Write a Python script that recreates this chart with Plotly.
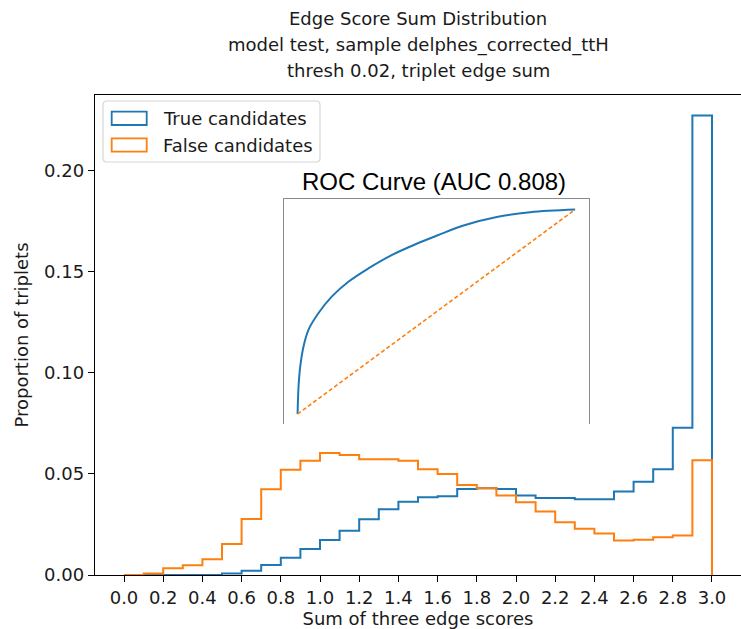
import numpy as np
import plotly.graph_objects as go

# Histogram binning: 30 bins of width 0.1 over [0, 3]
bin_lo, bin_hi, n_bins = 0.0, 3.0, 30

# Proportion of triplets per bin
true_frac = [0.0, 0.0, 0.0, 0.0, 0.0,
             0.0008, 0.0021, 0.0050, 0.0086, 0.0129,
             0.0173, 0.0219, 0.0276, 0.0325, 0.0363,
             0.0385, 0.0390, 0.0426, 0.0429, 0.0426,
             0.0393, 0.0381, 0.0381, 0.0375, 0.0375,
             0.0413, 0.0462, 0.0523, 0.0729, 0.2274]
false_frac = [0.0, 0.0008, 0.0033, 0.0048, 0.0078,
              0.0153, 0.0277, 0.0424, 0.0521, 0.0566,
              0.0604, 0.0594, 0.0573, 0.0573, 0.0566,
              0.0523, 0.0500, 0.0446, 0.0429, 0.0393,
              0.0360, 0.0314, 0.0261, 0.0229, 0.0205,
              0.0171, 0.0175, 0.0187, 0.0195, 0.0568]

# ROC curve points (false positive rate, true positive rate)
roc_fpr = [0.0, 0.0036, 0.0097, 0.0216, 0.0396, 0.0755, 0.123, 0.183,
           0.255, 0.339, 0.423, 0.505, 0.598, 0.718, 0.838, 1.0]
roc_tpr = [0.0, 0.137, 0.234, 0.332, 0.413, 0.494, 0.574, 0.647,
           0.712, 0.777, 0.829, 0.874, 0.922, 0.963, 0.987, 1.0]
roc_auc = 0.808

title_lines = ["Edge Score Sum Distribution",
               "model test, sample delphes_corrected_ttH",
               "thresh 0.02, triplet edge sum"]

x_ticks = [round(0.2 * i, 1) for i in range(16)]
y_ticks = [0.0, 0.05, 0.10, 0.15, 0.20]

BLUE = "#1f77b4"
ORANGE = "#ff7f0e"
FONT = "DejaVu Sans"
TXT = "#1a1a1a"


def step_outline(values):
    """Outline of a step histogram: up from the baseline, across each bin, down at the end."""
    edges = np.linspace(bin_lo, bin_hi, n_bins + 1)
    xs = [edges[0]] + list(edges[:-1]) + [edges[-1], edges[-1]]
    ys = [0.0] + list(values) + [values[-1], 0.0]
    return xs, ys


fig = go.Figure()

for vals, col, name in [(true_frac, BLUE, "True candidates"),
                        (false_frac, ORANGE, "False candidates")]:
    hx, hy = step_outline(vals)
    fig.add_trace(go.Scatter(x=hx, y=hy, mode="lines", name=name,
                             line=dict(color=col, width=2, shape="hv"),
                             showlegend=False, xaxis="x", yaxis="y"))

# Inset ROC curve
fig.add_trace(go.Scatter(x=roc_fpr, y=roc_tpr, mode="lines",
                         line=dict(color=BLUE, width=2, shape="spline", smoothing=1.0),
                         showlegend=False, xaxis="x2", yaxis="y2"))
fig.add_trace(go.Scatter(x=[0, 1], y=[0, 1], mode="lines",
                         line=dict(color=ORANGE, width=1.6, dash="4px,2.5px"),
                         showlegend=False, xaxis="x2", yaxis="y2"))

# Main axes occupies the plot area; the inset sits inside it
L, R, T, B = 95, 0, 95, 54
W, H = 741, 629
pw, ph = W - L - R, H - T - B


def px_x(p):
    return (p - L) / pw


def px_y(p):
    return (H - B - p) / ph


fig.update_layout(
    width=W, height=H,
    margin=dict(l=L, r=R, t=T, b=B, pad=0),
    paper_bgcolor="white", plot_bgcolor="white",
    font=dict(family=FONT, size=18, color=TXT),
    xaxis=dict(domain=[0, 1], range=[-0.148, 3.148], tickvals=x_ticks,
               ticktext=[f"{v:.1f}" for v in x_ticks],
               ticks="outside", ticklen=6, tickwidth=1.3, tickcolor="black",
               showline=True, linecolor="black", linewidth=1.4, mirror=True,
               showgrid=False, zeroline=False,
               title=dict(text="Sum of three edge scores", standoff=0,
                          font=dict(family=FONT, size=18, color=TXT))),
    yaxis=dict(domain=[0, 1], range=[0, 0.2376], tickvals=y_ticks,
               ticktext=[f"{v:.2f}" for v in y_ticks],
               ticks="outside", ticklen=6, tickwidth=1.3, tickcolor="black",
               showline=True, linecolor="black", linewidth=1.4,
               showgrid=False, zeroline=False,
               title=dict(text="Proportion of triplets", standoff=10,
                          font=dict(family=FONT, size=18, color=TXT))),
    xaxis2=dict(domain=[px_x(283.7), px_x(589)], range=[-0.05, 1.05], anchor="y2",
                side="top", showline=True, linecolor="#8a8a8a", linewidth=1.2,
                showticklabels=False, ticks="", showgrid=False, zeroline=False),
    yaxis2=dict(domain=[px_y(424.3), px_y(199.3)], range=[-0.05, 1.05], anchor="x2",
                showline=True, linecolor="#8a8a8a", linewidth=1.2, mirror=True,
                showticklabels=False, ticks="", showgrid=False, zeroline=False),
    showlegend=False,
)

# Three-line figure title centred over the axes
for i, line in enumerate(title_lines):
    fig.add_annotation(text=line, xref="paper", yref="paper",
                       x=0.5, y=px_y(19 + 26 * i), xanchor="center", yanchor="middle",
                       showarrow=False, font=dict(family=FONT, size=18, color=TXT))

# Inset title
fig.add_annotation(text=f"ROC Curve (AUC {roc_auc:.3f})", xref="paper", yref="paper",
                   x=px_x(434), y=px_y(181), xanchor="center", yanchor="middle",
                   showarrow=False,
                   font=dict(family="Liberation Sans", size=24, color="black"))

# Legend: rounded frame, outlined swatches and labels
lx0, lx1, ly0, ly1, rad = 103, 320, 101, 162, 4
frame = (f"M {px_x(lx0 + rad)} {px_y(ly0)} L {px_x(lx1 - rad)} {px_y(ly0)} "
         f"Q {px_x(lx1)} {px_y(ly0)} {px_x(lx1)} {px_y(ly0 + rad)} "
         f"L {px_x(lx1)} {px_y(ly1 - rad)} Q {px_x(lx1)} {px_y(ly1)} {px_x(lx1 - rad)} {px_y(ly1)} "
         f"L {px_x(lx0 + rad)} {px_y(ly1)} Q {px_x(lx0)} {px_y(ly1)} {px_x(lx0)} {px_y(ly1 - rad)} "
         f"L {px_x(lx0)} {px_y(ly0 + rad)} Q {px_x(lx0)} {px_y(ly0)} {px_x(lx0 + rad)} {px_y(ly0)} Z")
fig.add_shape(type="path", path=frame, xref="paper", yref="paper",
              line=dict(color="#d6d6d6", width=1.2), fillcolor="rgba(255,255,255,0.8)")

for (top, bot, col, label) in [(111.7, 125.0, BLUE, "True candidates"),
                               (138.3, 151.7, ORANGE, "False candidates")]:
    fig.add_shape(type="rect", xref="paper", yref="paper",
                  x0=px_x(111.7), x1=px_x(146.7), y0=px_y(bot), y1=px_y(top),
                  line=dict(color=col, width=1.8), fillcolor="rgba(0,0,0,0)")
    fig.add_annotation(text=label, xref="paper", yref="paper",
                       x=px_x(160.5), y=px_y((top + bot) / 2), xanchor="left", yanchor="middle",
                       showarrow=False, font=dict(family=FONT, size=18, color=TXT))

fig.write_html("out.html")
